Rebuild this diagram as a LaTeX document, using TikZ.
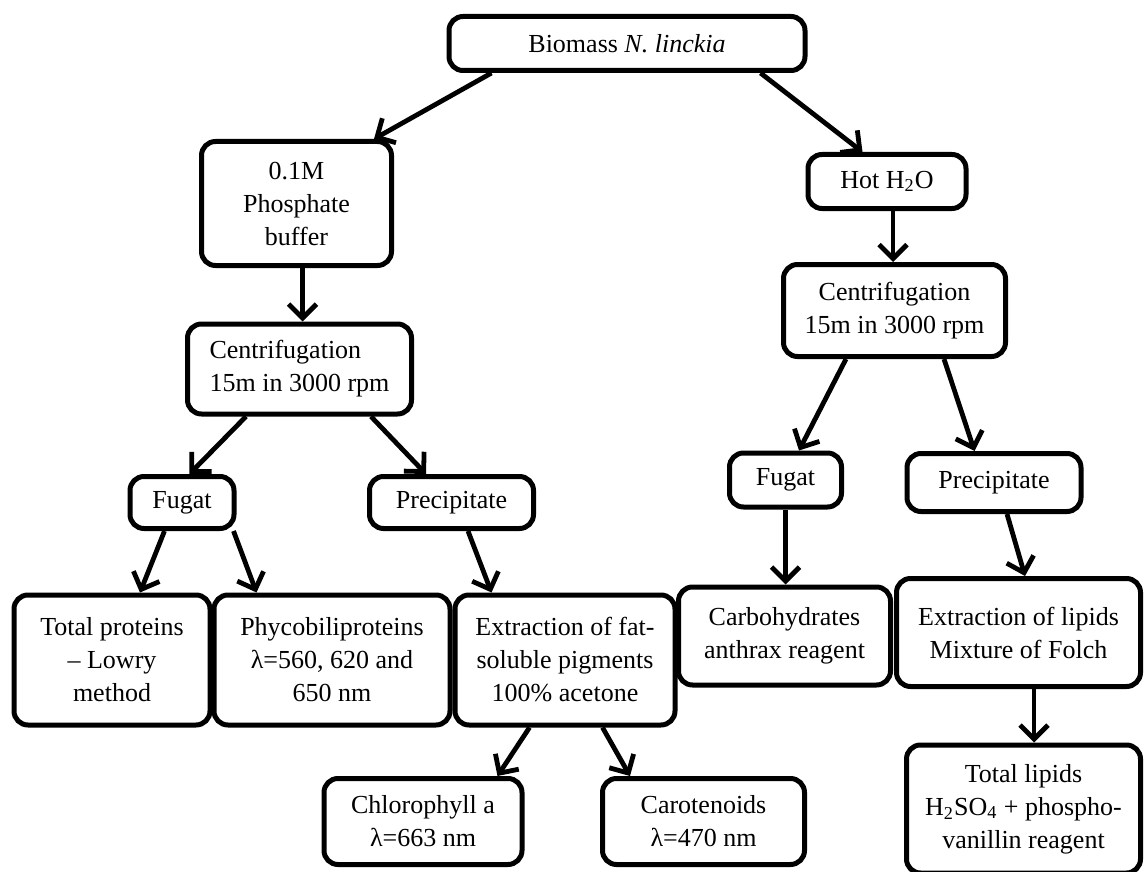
\documentclass[tikz,border=0pt]{standalone}
\usepackage{fontspec}
\setmainfont{Liberation Serif}
\usetikzlibrary{arrows.meta,calc}
\begin{document}
\begin{tikzpicture}[x=0.5pt,y=-0.5pt,
  box/.style={draw=black, line width=2.5pt, rounded corners=7pt, align=center,
    inner sep=0pt, fill=white, font=\fontsize{13pt}{16.5pt}\selectfont},
  arr/.style={line width=2.4pt, -{Straight Barb[length=7pt,width=14pt,line width=2.4pt]}}]
\useasboundingbox (0,0) rectangle (1146,872);
\fill[white] (0,0) rectangle (1146,872);
% nodes (centre in px, size in pt = px/2)
\node[box, minimum width=178pt, minimum height=27pt] (bio) at (627,43.5) {Biomass \textit{N. linckia}};
\node[box, minimum width=95pt, minimum height=62pt] (phos) at (296.5,203.5) {0.1M\\Phosphate\\buffer};
\node[box, minimum width=79pt, minimum height=27pt] (hot) at (887,181.5) {Hot H\textsubscript{2}O};
\node[box, minimum width=112pt, minimum height=45pt, align=left] (cenL) at (299.5,369) {Centrifugation\\15m in 3000 rpm};
\node[box, minimum width=111pt, minimum height=46pt] (cenR) at (894.5,310.5) {Centrifugation\\15m in 3000 rpm};
\node[box, minimum width=52pt, minimum height=26pt] (fugL) at (182,502.5) {Fugat};
\node[box, minimum width=82pt, minimum height=26pt] (preL) at (451.5,502.5) {Precipitate};
\node[box, minimum width=56pt, minimum height=27pt] (fugR) at (785.5,480) {Fugat};
\node[box, minimum width=87pt, minimum height=29pt] (preR) at (994,482.5) {Precipitate};
\node[box, minimum width=98pt, minimum height=65pt] (totp) at (112,660) {Total proteins\\– Lowry\\method};
\node[box, minimum width=118pt, minimum height=65pt] (phyc) at (332,660) {Phycobiliproteins\\λ=560, 620 and\\650 nm};
\node[box, minimum width=110pt, minimum height=65pt] (extf) at (565,660) {Extraction of fat-\\soluble pigments\\100\% acetone};
\node[box, minimum width=106pt, minimum height=49pt] (carb) at (784.5,636) {Carbohydrates\\anthrax reagent};
\node[box, minimum width=122pt, minimum height=54pt] (extl) at (1018.5,632.5) {Extraction of lipids\\Mixture of Folch};
\node[box, minimum width=99pt, minimum height=43pt] (chlo) at (423,821.5) {Chlorophyll a\\λ=663 nm};
\node[box, minimum width=101pt, minimum height=43pt] (caro) at (703.5,821.5) {Carotenoids\\λ=470 nm};
\node[box, minimum width=117pt, minimum height=64pt] (totl) at (1023.5,809) {Total lipids\\H\textsubscript{2}SO\textsubscript{4} + phospho-\\vanillin reagent};
% connectors
\draw[arr] ($(bio.south west)+(45,0)$) -- ($(phos.north east)+(-20,0)$);
\draw[arr] ($(bio.south east)+(-47,0)$) -- ($(hot.north west)+(57,0)$);
\draw[arr] ([xshift=3pt]phos.south) -- ([xshift=3pt]phos.south |- cenL.north);
\draw[arr] ([xshift=3pt]hot.south) -- ([xshift=3pt]hot.south |- cenR.north);
\draw[arr] ($(cenL.south west)+(61,0)$) -- ($(fugL.north west)+(62,0)$);
\draw[arr] ($(cenL.south east)+(-43,0)$) -- ($(preL.north west)+(59,0)$);
\draw[arr] ($(cenR.south west)+(65,0)$) -- ($(fugR.north west)+(72,0)$);
\draw[arr] ($(cenR.south east)+(-64,0)$) -- ($(preR.north west)+(70,0)$);
\draw[arr] ($(fugL.south west)+(37,0)$) -- ($(totp.north)+(28,0)$);
\draw[arr] ($(fugL.south east)+(-3,0)$) -- ($(phyc.north west)+(45,0)$);
\draw[arr] ($(preL.south)+(16.5,0)$) -- ($(extf.north west)+(39,0)$);
\draw[arr] (fugR.south) -- (fugR.south |- carb.north);
\draw[arr] ($(preR.south)+(13,0)$) -- ($(extl.north)+(6.5,0)$);
\draw[arr] ($(extf.south west)+(77,0)$) -- ($(chlo.north east)+(-27,0)$);
\draw[arr] ($(extf.south east)+(-75,0)$) -- ($(caro.north west)+(30,0)$);
\draw[arr] ([xshift=7.75pt]extl.south) -- ([xshift=7.75pt]extl.south |- totl.north);
\end{tikzpicture}
\end{document}
